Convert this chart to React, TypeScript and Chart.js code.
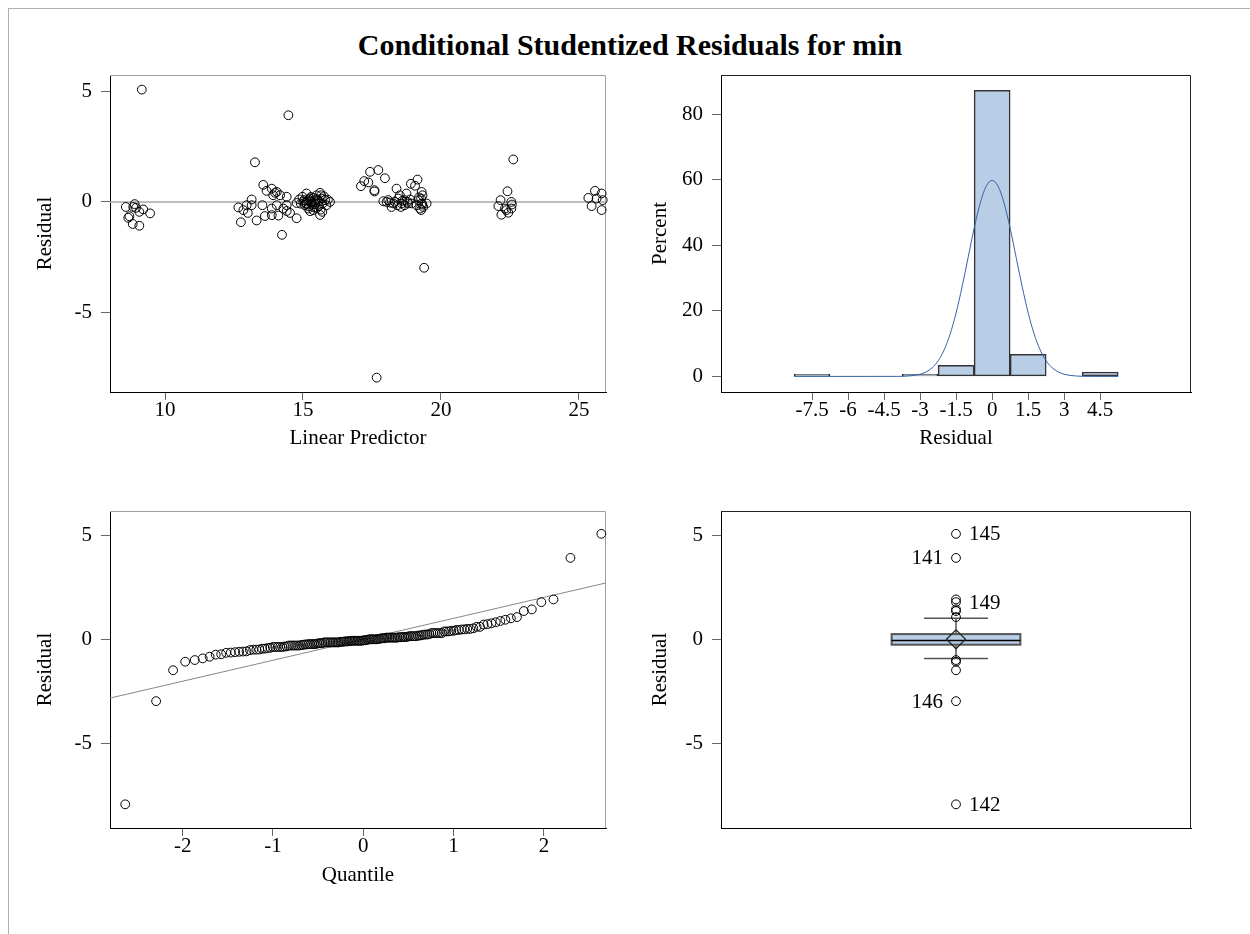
import React, { useEffect, useRef } from 'react';
import { Chart, registerables } from 'chart.js';

Chart.register(...registerables);

// ---------------- data ----------------
const linearPredictor = [
  8.58, 8.90, 8.85, 8.71, 8.67, 8.83, 9.07, 9.07, 9.21, 9.46, 8.95, 9.16,
  13.26, 14.47, 14.24, 13.56, 13.68, 13.87, 13.99, 13.92, 14.05, 14.17, 14.41, 12.66, 12.84, 12.96, 13.14, 13.14,
  13.00, 12.75, 13.32, 13.53, 13.62, 13.87, 13.87, 14.05, 14.11, 14.29, 14.41, 14.41, 14.53, 14.77, 14.77, 14.86,
  14.98, 15.13, 15.25, 15.31, 15.43, 15.49, 15.62, 15.68, 15.80, 15.98, 15.62, 15.37, 15.19, 15.07, 15.01, 15.10,
  15.16, 15.22, 15.28, 15.34, 15.40, 15.46, 15.52, 15.58, 15.64, 15.70, 15.76, 15.85, 15.20, 15.30, 15.38, 15.44,
  15.50, 15.56, 15.66, 15.04, 15.14, 15.26, 15.90, 14.92, 15.70,
  17.10, 17.22, 17.43, 17.73, 17.97, 17.37, 17.59, 17.59, 17.91, 18.03, 18.21, 18.27, 18.39, 18.45, 18.51, 18.57,
  18.68, 18.75, 18.81, 18.91, 19.15, 19.06, 19.30, 19.33, 19.28, 19.18, 19.12, 19.24, 19.36, 19.48, 18.94, 18.88,
  18.42, 18.55, 18.33, 18.09, 18.68, 18.79, 19.30, 19.28, 17.67, 19.39, 19.32, 18.60, 19.20, 18.15,
  22.62, 22.41, 22.16, 22.08, 22.19, 22.37, 22.55, 22.57, 22.55, 22.44, 22.32,
  25.34, 25.58, 25.82, 25.64, 25.86, 25.46, 25.82,
];

const residual = [
  -0.23, -0.10, -0.23, -0.65, -0.72, -1.00, -1.08, -0.45, -0.34, -0.52, -0.27, 5.08,
  1.79, 3.92, -1.49, 0.77, 0.50, 0.60, 0.41, 0.30, 0.45, 0.30, 0.23, -0.25, -0.37, -0.15, 0.11, -0.15,
  -0.50, -0.92, -0.84, -0.15, -0.64, -0.30, -0.60, -0.15, -0.62, -0.30, -0.15, -0.41, -0.50, -0.74, -0.05, 0.11,
  0.23, 0.38, 0.15, -0.07, 0.08, 0.30, 0.41, 0.15, 0.08, 0.00, -0.59, -0.37, -0.30, -0.15, 0.00, -0.05,
  0.05, -0.20, 0.22, -0.12, -0.25, -0.02, 0.12, -0.18, -0.35, -0.08, 0.25, -0.15, 0.10, 0.02, 0.18, -0.10,
  -0.28, 0.05, 0.30, 0.08, -0.10, -0.42, 0.10, -0.08, -0.45,
  0.71, 0.94, 1.36, 1.44, 1.07, 0.88, 0.53, 0.47, 0.03, 0.00, -0.23, -0.07, 0.60, 0.15, 0.30, -0.07,
  0.08, 0.38, -0.07, 0.82, 1.01, 0.73, 0.45, 0.30, 0.15, 0.08, -0.15, -0.30, -0.23, -0.07, -0.07, 0.11,
  -0.15, -0.23, 0.00, 0.08, -0.15, 0.00, -0.07, -0.37, -7.95, -2.98, -0.12, 0.05, 0.20, -0.03,
  1.92, 0.48, 0.08, -0.19, -0.58, -0.37, 0.00, -0.12, -0.30, -0.49, -0.30,
  0.18, 0.50, 0.38, 0.15, 0.08, -0.19, -0.37,
];

const residualReference = 0;

// histogram
const binMidpoints = [-7.5, -6, -4.5, -3, -1.5, 0, 1.5, 3, 4.5];
const binPercents = [0.67, 0, 0, 0.67, 3.36, 87.25, 6.71, 0, 1.34];
const normalX = [-8.25, -4, -3.5, -3, -2.75, -2.5, -2.25, -2, -1.75, -1.5, -1.25, -1, -0.75, -0.5, -0.25, 0,
  0.25, 0.5, 0.75, 1, 1.25, 1.5, 1.75, 2, 2.25, 2.5, 2.75, 3, 3.5, 4, 5.25];
const normalPercent = [0, 0.02, 0.13, 0.66, 1.37, 2.63, 4.75, 8.1, 12.9, 19.4, 27.4, 36.3, 45.2, 52.8, 58.0, 59.8,
  58.0, 52.8, 45.2, 36.3, 27.4, 19.4, 12.9, 8.1, 4.75, 2.63, 1.37, 0.66, 0.13, 0.02, 0];

// Q-Q reference line
const qqLineQuantile = [-3, 3];
const qqLineResidual = [-3.03, 3.03];

// box plot
const boxQuartiles = [-0.26, -0.06, 0.25]; // Q1, median, Q3
const boxWhiskers = [-0.92, 1.01];
const boxMean = 0.0;
const outlierIds = ['145', '141', '149', '146', '142'];
const outlierIdValues = [5.08, 3.92, 1.79, -2.98, -7.95];

// tick labels
const scatterXTicks = [10, 15, 20, 25];
const residualTicks = [-5, 0, 5];
const histXTicks = [-7.5, -6, -4.5, -3, -1.5, 0, 1.5, 3, 4.5];
const percentTicks = [0, 20, 40, 60, 80];
const quantileTicks = [-2, -1, 0, 1, 2];

// ---------------- helpers ----------------
const FONT = '"Liberation Serif", "Times New Roman", Times, serif';
const tickFont = { family: FONT, size: 21 };
const BLUE_FILL = '#B8CEE6';

function invNorm(p: number): number {
  const a = [-3.969683028665376e1, 2.209460984245205e2, -2.759285104469687e2, 1.38357751867269e2, -3.066479806614716e1, 2.506628277459239];
  const b = [-5.447609879822406e1, 1.615858368580409e2, -1.556989798598866e2, 6.680131188771972e1, -1.328068155288572e1];
  const c = [-7.784894002430293e-3, -3.223964580411365e-1, -2.400758277161838, -2.549732539343734, 4.374664141464968, 2.938163982698783];
  const d = [7.784695709041462e-3, 3.224671290700398e-1, 2.445134137142996, 3.754408661907416];
  const pl = 0.02425;
  if (p < pl) {
    const q = Math.sqrt(-2 * Math.log(p));
    return (((((c[0] * q + c[1]) * q + c[2]) * q + c[3]) * q + c[4]) * q + c[5]) / ((((d[0] * q + d[1]) * q + d[2]) * q + d[3]) * q + 1);
  }
  if (p > 1 - pl) {
    const q = Math.sqrt(-2 * Math.log(1 - p));
    return -(((((c[0] * q + c[1]) * q + c[2]) * q + c[3]) * q + c[4]) * q + c[5]) / ((((d[0] * q + d[1]) * q + d[2]) * q + d[3]) * q + 1);
  }
  const q = p - 0.5;
  const r = q * q;
  return (((((a[0] * r + a[1]) * r + a[2]) * r + a[3]) * r + a[4]) * r + a[5]) * q / (((((b[0] * r + b[1]) * r + b[2]) * r + b[3]) * r + b[4]) * r + 1);
}

const fixedTicks = (values: number[]) => (axis: any) => {
  axis.ticks = values.map((v) => ({ value: v }));
};

function clearPadding(a: any) {
  a.paddingTop = 0;
  a.paddingBottom = 0;
  a.paddingLeft = 0;
  a.paddingRight = 0;
}

function yScale(min: number, max: number, ticks: number[], title: string, width: number) {
  return {
    type: 'linear',
    position: 'left',
    min,
    max,
    afterBuildTicks: fixedTicks(ticks),
    afterFit: (a: any) => { a.width = width; clearPadding(a); },
    ticks: { font: tickFont, color: '#000', padding: 9, autoSkip: false, maxRotation: 0, callback: (v: any) => String(v) },
    grid: { display: true, drawOnChartArea: false, drawTicks: true, tickLength: 9, tickColor: '#666', tickWidth: 1 },
    border: { display: true, color: '#000', width: 1 },
    title: { display: true, text: title, font: tickFont, color: '#000', padding: { top: 32.4, bottom: 0 } },
  };
}

function xScale(min: number, max: number, ticks: number[], title: string, height: number, titlePad: number) {
  return {
    type: 'linear',
    position: 'bottom',
    min,
    max,
    offset: false,
    afterBuildTicks: fixedTicks(ticks),
    afterFit: (a: any) => { a.height = height; clearPadding(a); },
    ticks: { font: tickFont, color: '#000', padding: -2, autoSkip: false, maxRotation: 0, minRotation: 0, callback: (v: any) => String(v) },
    grid: { display: true, offset: false, drawOnChartArea: false, drawTicks: true, tickLength: 8, tickColor: '#666', tickWidth: 1 },
    border: { display: true, color: '#000', width: 1 },
    title: { display: true, text: title, font: tickFont, color: '#000', padding: { top: 0, bottom: titlePad } },
  };
}

function framePlugin(color: string) {
  return {
    id: 'frame',
    beforeDatasetsDraw(chart: any) {
      const { ctx, chartArea: a } = chart;
      ctx.save();
      ctx.strokeStyle = color;
      ctx.lineWidth = 1;
      ctx.beginPath();
      ctx.moveTo(a.left, a.top + 0.5);
      ctx.lineTo(a.right - 0.5, a.top + 0.5);
      ctx.lineTo(a.right - 0.5, a.bottom);
      ctx.stroke();
      ctx.restore();
    },
  };
}

const basePlugins = {
  legend: { display: false },
  tooltip: { enabled: false },
};

const circleStyle = {
  pointStyle: 'circle',
  pointRadius: 4.4,
  pointBorderColor: '#000',
  pointBorderWidth: 1,
  pointBackgroundColor: 'rgba(0,0,0,0)',
  borderColor: '#000',
  backgroundColor: 'rgba(0,0,0,0)',
};

// ---------------- chart configs ----------------
const TOP_H = 400;
const CHART_TOP = 15;
const AREA_H = 317;
const X_AXIS_H = TOP_H - CHART_TOP - AREA_H;

function scatterConfig(): any {
  const xMin = 8.007, xMax = 25.98;
  return {
    type: 'scatter',
    data: {
      datasets: [
        { data: linearPredictor.map((x, i) => ({ x, y: residual[i] })), ...circleStyle, order: 0, clip: false },
        {
          type: 'line',
          data: [{ x: xMin, y: residualReference }, { x: xMax, y: residualReference }],
          borderColor: '#a8a8a8', borderWidth: 1.5, pointRadius: 0, order: 1,
        },
      ],
    },
    options: {
      responsive: false, animation: false, devicePixelRatio: 1,
      layout: { padding: { left: 0, top: CHART_TOP, right: 9, bottom: 0 }, autoPadding: false },
      scales: {
        x: xScale(xMin, xMax, scatterXTicks, 'Linear Predictor', X_AXIS_H, 9.4),
        y: yScale(-8.6, 5.74, residualTicks, 'Residual', 110),
      },
      plugins: basePlugins,
    },
    plugins: [framePlugin('#a0a0a0')],
  };
}

function histogramConfig(): any {
  return {
    type: 'bar',
    data: {
      datasets: [
        {
          type: 'line',
          data: normalX.map((x, i) => ({ x, y: normalPercent[i] })),
          borderColor: '#3462AA', borderWidth: 1, pointRadius: 0,
          cubicInterpolationMode: 'monotone', order: 0,
        },
        {
          type: 'bar',
          data: binMidpoints.map((x, i) => ({ x, y: binPercents[i] > 0 ? binPercents[i] : null })),
          backgroundColor: BLUE_FILL, borderColor: '#333', borderWidth: 1.5, borderSkipped: false,
          barPercentage: 1, categoryPercentage: 1, order: 1,
        },
      ],
    },
    options: {
      responsive: false, animation: false, devicePixelRatio: 1,
      layout: { padding: { left: 0, top: CHART_TOP, right: 59, bottom: 0 }, autoPadding: false },
      scales: {
        x: xScale(-11.29, 8.28, histXTicks, 'Residual', X_AXIS_H, 9.4),
        y: yScale(-4.75, 91.96, percentTicks, 'Percent', 106),
      },
      plugins: basePlugins,
    },
    plugins: [framePlugin('#222')],
  };
}

function qqConfig(): any {
  const sorted = [...residual].sort((a, b) => a - b);
  const n = sorted.length;
  const pts = sorted.map((r, i) => ({ x: invNorm((i + 1 - 0.375) / (n + 0.25)), y: r }));
  return {
    type: 'scatter',
    data: {
      datasets: [
        { data: pts, ...circleStyle, order: 0, clip: false },
        {
          type: 'line',
          data: qqLineQuantile.map((x, i) => ({ x, y: qqLineResidual[i] })),
          borderColor: '#888', borderWidth: 1, pointRadius: 0, order: 1,
        },
      ],
    },
    options: {
      responsive: false, animation: false, devicePixelRatio: 1,
      layout: { padding: { left: 0, top: CHART_TOP, right: 9, bottom: 0 }, autoPadding: false },
      scales: {
        x: xScale(-2.805, 2.688, quantileTicks, 'Quantile', X_AXIS_H, 8.4),
        y: yScale(-9.09, 6.18, residualTicks, 'Residual', 110),
      },
      plugins: basePlugins,
    },
    plugins: [framePlugin('#a0a0a0')],
  };
}

function boxConfig(): any {
  const center = 0.5;
  const boxHalf = 0.137;
  const capHalf = 0.068;
  const outliers = residual.filter((v) => v < boxWhiskers[0] || v > boxWhiskers[1]);
  const labelSide = ['right', 'left', 'right', 'left', 'right'];
  const boxPlugin = {
    id: 'boxplot',
    beforeDatasetsDraw(chart: any) {
      const { ctx } = chart;
      const xs = chart.scales.x, ys = chart.scales.y;
      const cx = xs.getPixelForValue(center);
      const bl = xs.getPixelForValue(center - boxHalf), br = xs.getPixelForValue(center + boxHalf);
      const cl = xs.getPixelForValue(center - capHalf), cr = xs.getPixelForValue(center + capHalf);
      const yQ1 = ys.getPixelForValue(boxQuartiles[0]);
      const yMed = ys.getPixelForValue(boxQuartiles[1]);
      const yQ3 = ys.getPixelForValue(boxQuartiles[2]);
      const yLo = ys.getPixelForValue(boxWhiskers[0]);
      const yHi = ys.getPixelForValue(boxWhiskers[1]);
      ctx.save();
      ctx.strokeStyle = '#555';
      ctx.lineWidth = 1.5;
      ctx.beginPath();
      ctx.moveTo(cx, yQ3); ctx.lineTo(cx, yHi);
      ctx.moveTo(cl, yHi); ctx.lineTo(cr, yHi);
      ctx.moveTo(cx, yQ1); ctx.lineTo(cx, yLo);
      ctx.moveTo(cl, yLo); ctx.lineTo(cr, yLo);
      ctx.stroke();
      ctx.fillStyle = BLUE_FILL;
      ctx.fillRect(bl, yQ3, br - bl, yQ1 - yQ3);
      ctx.strokeStyle = '#555';
      ctx.lineWidth = 2;
      ctx.strokeRect(bl, yQ3, br - bl, yQ1 - yQ3);
      ctx.strokeStyle = '#000';
      ctx.lineWidth = 1.5;
      ctx.beginPath();
      ctx.moveTo(bl, yMed); ctx.lineTo(br, yMed);
      ctx.stroke();
      ctx.restore();
    },
    afterDatasetsDraw(chart: any) {
      const { ctx } = chart;
      const xs = chart.scales.x, ys = chart.scales.y;
      const cx = xs.getPixelForValue(center);
      ctx.save();
      ctx.font = `21px ${FONT}`;
      ctx.fillStyle = '#000';
      ctx.textBaseline = 'middle';
      outlierIds.forEach((id, i) => {
        const y = ys.getPixelForValue(outlierIdValues[i]);
        if (labelSide[i] === 'right') {
          ctx.textAlign = 'left';
          ctx.fillText(id, cx + 13, y + 1);
        } else {
          ctx.textAlign = 'right';
          ctx.fillText(id, cx - 13, y + 1);
        }
      });
      ctx.restore();
    },
  };
  return {
    type: 'scatter',
    data: {
      datasets: [
        {
          data: [{ x: center, y: boxMean }],
          pointStyle: 'rectRot', pointRadius: 9.5, pointBorderColor: '#222', pointBorderWidth: 1.2,
          pointBackgroundColor: 'rgba(0,0,0,0)', order: 1,
        },
        { data: outliers.map((v) => ({ x: center, y: v })), ...circleStyle, order: 0, clip: false },
      ],
    },
    options: {
      responsive: false, animation: false, devicePixelRatio: 1,
      layout: { padding: { left: 0, top: CHART_TOP, right: 59, bottom: 0 }, autoPadding: false },
      scales: {
        x: {
          type: 'linear', position: 'bottom', min: 0, max: 1,
          afterFit: (a: any) => { a.height = X_AXIS_H; clearPadding(a); },
          ticks: { display: false },
          grid: { display: false },
          border: { display: true, color: '#000', width: 1 },
          title: { display: false },
        },
        y: yScale(-9.09, 6.18, residualTicks, 'Residual', 106),
      },
      plugins: basePlugins,
    },
    plugins: [framePlugin('#222'), boxPlugin],
  };
}

function ChartCanvas({ left, top, width, height, make }: any) {
  const ref = useRef<HTMLCanvasElement | null>(null);
  useEffect(() => {
    const chart = new Chart(ref.current as HTMLCanvasElement, make());
    return () => chart.destroy();
  }, []);
  return (
    <canvas
      ref={ref}
      width={width}
      height={height}
      style={{ position: 'absolute', left, top, width, height }}
    />
  );
}

export default function App() {
  return (
    <div style={{ position: 'fixed', left: 0, top: 0, width: 1250, height: 934, background: '#fff', overflow: 'hidden' }}>
      <div
        style={{
          position: 'absolute', left: 8, top: 8, width: 1242, height: 926,
          borderTop: '1px solid #b0b0b0', borderLeft: '1px solid #b0b0b0', boxSizing: 'border-box',
        }}
      />
      <div
        style={{
          position: 'absolute', left: 5, top: 28, width: 1250, textAlign: 'center',
          fontFamily: FONT, fontWeight: 'bold', fontSize: 30, lineHeight: '34px', color: '#000',
        }}
      >
        Conditional Studentized Residuals for min
      </div>
      <ChartCanvas left={0} top={60} width={615} height={TOP_H} make={scatterConfig} />
      <ChartCanvas left={615} top={60} width={635} height={TOP_H} make={histogramConfig} />
      <ChartCanvas left={0} top={496} width={615} height={TOP_H} make={qqConfig} />
      <ChartCanvas left={615} top={496} width={635} height={TOP_H} make={boxConfig} />
    </div>
  );
}
